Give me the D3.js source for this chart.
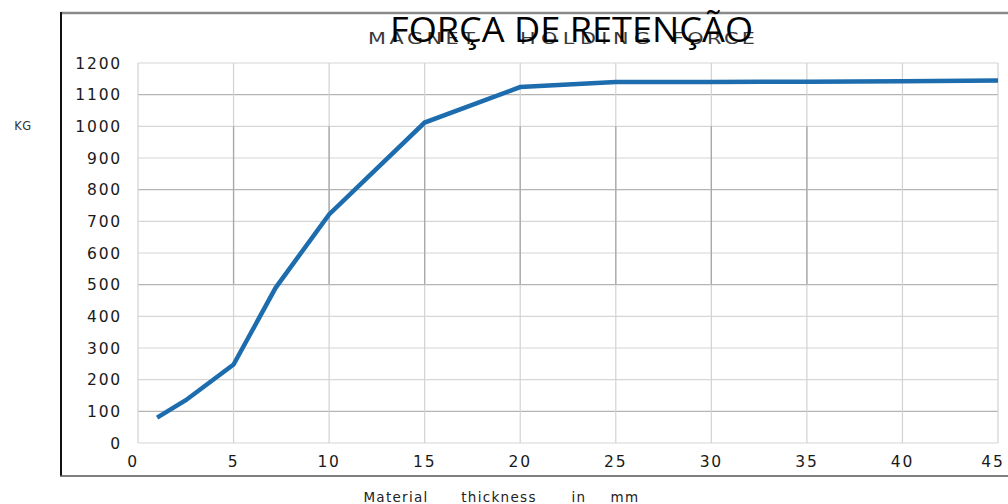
<!DOCTYPE html>
<html>
<head>
<meta charset="utf-8">
<script src="https://cdn.jsdelivr.net/npm/d3@7"></script>
<style>
  html, body { margin: 0; padding: 0; background: #fff; }
  svg { display: block; }
</style>
</head>
<body>
<svg id="chart" width="1008" height="504"></svg>
<script>
// Holding force of the magnet vs. material thickness
const thicknessMm = [1, 2.5, 5, 7.2, 10, 15, 20, 25, 30, 35, 40, 45];
const forceKg     = [80, 135, 248, 490, 722, 1012, 1124, 1140, 1140, 1141, 1142, 1145];

const xTicks = [0, 5, 10, 15, 20, 25, 30, 35, 40, 45];
const yTicks = [0, 100, 200, 300, 400, 500, 600, 700, 800, 900, 1000, 1100, 1200];
const darkRows = [100, 500, 800, 1100];

const titleText = "FORÇA DE RETENÇÃO";
const subtitleWords = ["MAGNET", "HOLDING", "FORCE"];
const yLabel = "KG";
const xLabelWords = ["Material", "thickness", "in", "mm"];

const svg = d3.select("#chart");
const W = 1008;
const plot = { left: 138, right: 998, top: 63, bottom: 443 };

const x = d3.scaleLinear().domain([0, 45]).range([plot.left, plot.right]);
const y = d3.scaleLinear().domain([0, 1200]).range([plot.bottom, plot.top]);

// outer frame
svg.append("line").attr("x1", 61).attr("x2", W).attr("y1", 13).attr("y2", 13)
  .attr("stroke", "#8a8a8a").attr("stroke-width", 2.5);
svg.append("line").attr("x1", 61).attr("x2", 61).attr("y1", 12).attr("y2", 476)
  .attr("stroke", "#111").attr("stroke-width", 2);
svg.append("line").attr("x1", 60).attr("x2", W).attr("y1", 476).attr("y2", 476)
  .attr("stroke", "#555").attr("stroke-width", 1.6);

// grid
const grid = svg.append("g");
grid.selectAll("line.h").data(yTicks).join("line")
  .attr("x1", plot.left).attr("x2", plot.right)
  .attr("y1", d => y(d)).attr("y2", d => y(d))
  .attr("stroke", d => darkRows.includes(d) ? "#b4b4b4" : "#d6d6d6")
  .attr("stroke-width", 1.2);
grid.selectAll("line.v").data(xTicks).join("line")
  .attr("x1", d => x(d)).attr("x2", d => x(d))
  .attr("y1", plot.top).attr("y2", plot.bottom)
  .attr("stroke", "#d2d2d2").attr("stroke-width", 1.2);
// darker middle band of the vertical rules
grid.selectAll("line.vd").data(xTicks.filter(d => d > 0 && d < 40)).join("line")
  .attr("x1", d => x(d)).attr("x2", d => x(d))
  .attr("y1", y(1000)).attr("y2", y(500))
  .attr("stroke", "#a8a8a8").attr("stroke-width", 1.3);

// tick labels
const tickFont = "'DejaVu Sans', Verdana, sans-serif";
svg.append("g").selectAll("text").data(yTicks).join("text")
  .attr("x", 122).attr("y", d => y(d) + 5.5)
  .attr("text-anchor", "end")
  .attr("font-family", tickFont).attr("font-size", 15.5)
  .attr("letter-spacing", 1.8)
  .attr("fill", "#1a1a1a")
  .text(d => d);

svg.append("g").selectAll("text").data(xTicks).join("text")
  .attr("x", d => x(d) - (d === 0 ? 5 : 0) - (d === 45 ? 5 : 0)).attr("y", 467)
  .attr("text-anchor", "middle")
  .attr("font-family", tickFont).attr("font-size", 15.5)
  .attr("letter-spacing", 1.8)
  .attr("fill", "#1a1a1a")
  .text(d => d);

// axis titles
svg.append("text").attr("x", 23).attr("y", 130)
  .attr("text-anchor", "middle")
  .attr("font-family", tickFont).attr("font-size", 11.5)
  .attr("letter-spacing", 0.5)
  .attr("fill", "#333").text(yLabel);

const xWordPos = [396, 499, 579, 625];
svg.append("g").selectAll("text").data(xLabelWords).join("text")
  .attr("x", (d, i) => xWordPos[i]).attr("y", 502)
  .attr("text-anchor", "middle")
  .attr("font-family", tickFont).attr("font-size", 13.5)
  .attr("letter-spacing", 1.3)
  .attr("fill", "#222").text(d => d);

// data line
const line = d3.line().x(d => x(d[0])).y(d => y(d[1]));
svg.append("path")
  .datum(d3.zip(thicknessMm, forceKg))
  .attr("d", line)
  .attr("fill", "none")
  .attr("stroke", "#1c6cae")
  .attr("stroke-width", 4.5)
  .attr("stroke-linejoin", "miter");

// English caption sitting behind the main title (wide, stretched letters)
const subStart = [368, 520, 672];
const subWidth = [107, 130, 83];
const stretch = 1.3;
svg.append("g").selectAll("g").data(subtitleWords).join("g")
  .attr("transform", (d, i) => `translate(${subStart[i]},44) scale(${stretch},1)`)
  .append("text")
  .attr("x", 0).attr("y", 0)
  .attr("font-family", tickFont)
  .attr("font-size", 16)
  .attr("fill", "#3a3a3a")
  .attr("textLength", (d, i) => subWidth[subtitleWords.indexOf(d)] / stretch)
  .attr("lengthAdjust", "spacing")
  .text(d => d);

svg.append("text").attr("x", 390).attr("y", 42)
  .attr("font-family", "'Open Sans', 'Noto Sans', sans-serif")
  .attr("font-size", 35)
  .attr("fill", "#000")
  .attr("textLength", 363).attr("lengthAdjust", "spacingAndGlyphs")
  .text(titleText);
</script>
</body>
</html>
